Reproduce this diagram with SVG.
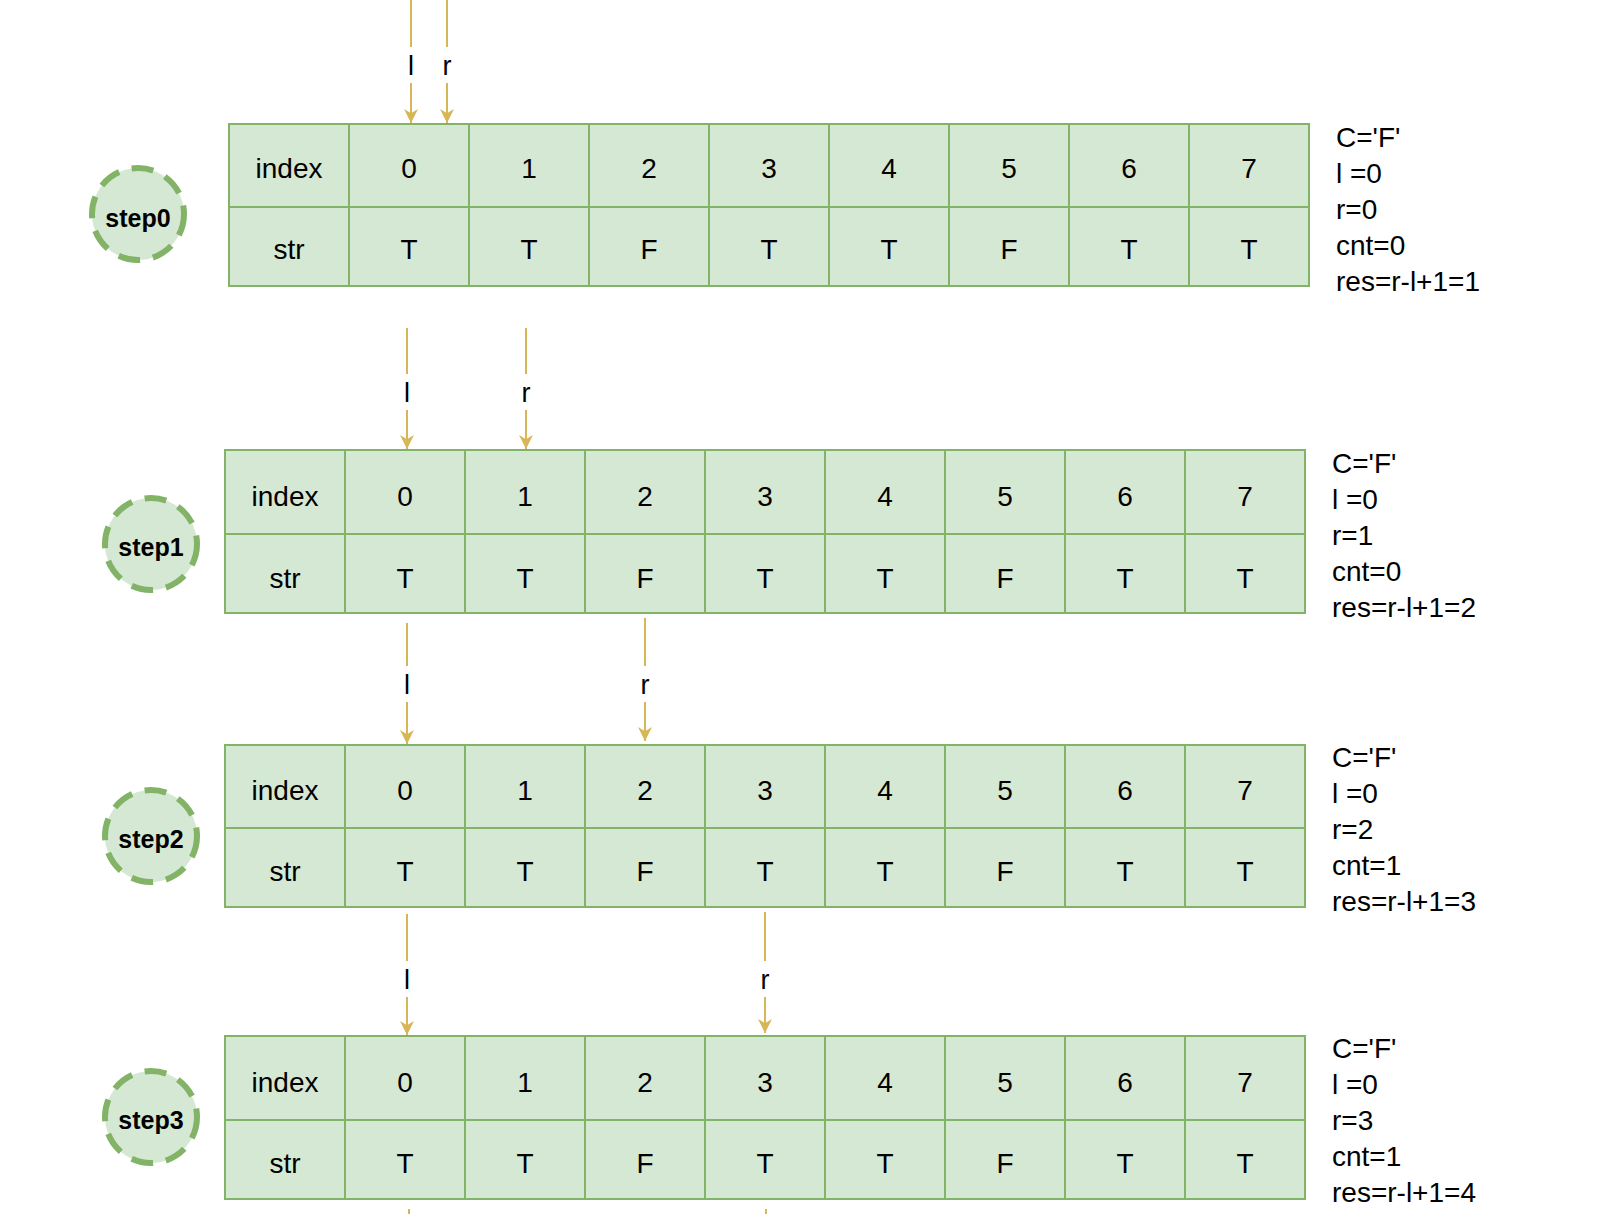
<svg xmlns="http://www.w3.org/2000/svg" width="1602" height="1214" viewBox="0 0 1602 1214">
  <style>
    .cell { fill: #d5e8d4; stroke: #82b366; stroke-width: 2; }
    .grid { stroke: #82b366; stroke-width: 2; }
    .txt { font-family: "Liberation Sans", "DejaVu Sans", sans-serif; font-size: 28px; fill: #000; text-anchor: middle; dominant-baseline: central; }
    .info { font-family: "Liberation Sans", "DejaVu Sans", sans-serif; font-size: 28px; fill: #000; }
    .step { fill: #d5e8d4; stroke: #82b366; stroke-width: 6; stroke-dasharray: 22 13; }
    .steplbl { font-family: "Liberation Sans", "DejaVu Sans", sans-serif; font-size: 25px; font-weight: bold; fill: #000; text-anchor: middle; dominant-baseline: central; }
    .ptr { stroke: #d6b656; stroke-width: 2; fill: none; marker-end: url(#arrow); }
    .stub { stroke: #d6b656; stroke-width: 2; }
    .lblbg { fill: #ffffff; }
    .lbl { font-family: "Liberation Sans", "DejaVu Sans", sans-serif; font-size: 27px; fill: #000; text-anchor: middle; dominant-baseline: central; }
  </style>
  <defs>
    <marker id="arrow" viewBox="0 0 10 10" refX="10" refY="5" markerWidth="14" markerHeight="14" markerUnits="userSpaceOnUse" orient="auto">
      <path d="M0,0 L10,5 L0,10 L3,5 z" fill="#d6b656"/>
    </marker>
  </defs>
  <rect width="1602" height="1214" fill="#ffffff"/>

  <!-- step 0 -->
  <g id="step0">
    <circle class="step" cx="138" cy="214" r="46"/>
    <text class="steplbl" x="138" y="218">step0</text>
  </g>
  <g id="table0">
    <rect class="cell" x="229" y="124" width="1080" height="162"/>
    <path class="grid" d="M229,207H1309M349,124V286M469,124V286M589,124V286M709,124V286M829,124V286M949,124V286M1069,124V286M1189,124V286"/>
    <text class="txt" x="289" y="168">index</text><text class="txt" x="409" y="168">0</text><text class="txt" x="529" y="168">1</text><text class="txt" x="649" y="168">2</text><text class="txt" x="769" y="168">3</text><text class="txt" x="889" y="168">4</text><text class="txt" x="1009" y="168">5</text><text class="txt" x="1129" y="168">6</text><text class="txt" x="1249" y="168">7</text>
    <text class="txt" x="289" y="249">str</text><text class="txt" x="409" y="249">T</text><text class="txt" x="529" y="249">T</text><text class="txt" x="649" y="249">F</text><text class="txt" x="769" y="249">T</text><text class="txt" x="889" y="249">T</text><text class="txt" x="1009" y="249">F</text><text class="txt" x="1129" y="249">T</text><text class="txt" x="1249" y="249">T</text>
  </g>
  <g id="info0">
    <text class="info" x="1336" y="147"><tspan x="1336">C='F'</tspan><tspan x="1336" dy="36">l =0</tspan><tspan x="1336" dy="36">r=0</tspan><tspan x="1336" dy="36">cnt=0</tspan><tspan x="1336" dy="36">res=r-l+1=1</tspan></text>
  </g>

  <!-- step 1 -->
  <g id="step1">
    <circle class="step" cx="151" cy="544" r="46"/>
    <text class="steplbl" x="151" y="547">step1</text>
  </g>
  <g id="table1">
    <rect class="cell" x="225" y="450" width="1080" height="163"/>
    <path class="grid" d="M225,534H1305M345,450V613M465,450V613M585,450V613M705,450V613M825,450V613M945,450V613M1065,450V613M1185,450V613"/>
    <text class="txt" x="285" y="496">index</text><text class="txt" x="405" y="496">0</text><text class="txt" x="525" y="496">1</text><text class="txt" x="645" y="496">2</text><text class="txt" x="765" y="496">3</text><text class="txt" x="885" y="496">4</text><text class="txt" x="1005" y="496">5</text><text class="txt" x="1125" y="496">6</text><text class="txt" x="1245" y="496">7</text>
    <text class="txt" x="285" y="578">str</text><text class="txt" x="405" y="578">T</text><text class="txt" x="525" y="578">T</text><text class="txt" x="645" y="578">F</text><text class="txt" x="765" y="578">T</text><text class="txt" x="885" y="578">T</text><text class="txt" x="1005" y="578">F</text><text class="txt" x="1125" y="578">T</text><text class="txt" x="1245" y="578">T</text>
  </g>
  <g id="info1">
    <text class="info" x="1332" y="473"><tspan x="1332">C='F'</tspan><tspan x="1332" dy="36">l =0</tspan><tspan x="1332" dy="36">r=1</tspan><tspan x="1332" dy="36">cnt=0</tspan><tspan x="1332" dy="36">res=r-l+1=2</tspan></text>
  </g>

  <!-- step 2 -->
  <g id="step2">
    <circle class="step" cx="151" cy="836" r="46"/>
    <text class="steplbl" x="151" y="839">step2</text>
  </g>
  <g id="table2">
    <rect class="cell" x="225" y="745" width="1080" height="162"/>
    <path class="grid" d="M225,828H1305M345,745V907M465,745V907M585,745V907M705,745V907M825,745V907M945,745V907M1065,745V907M1185,745V907"/>
    <text class="txt" x="285" y="790">index</text><text class="txt" x="405" y="790">0</text><text class="txt" x="525" y="790">1</text><text class="txt" x="645" y="790">2</text><text class="txt" x="765" y="790">3</text><text class="txt" x="885" y="790">4</text><text class="txt" x="1005" y="790">5</text><text class="txt" x="1125" y="790">6</text><text class="txt" x="1245" y="790">7</text>
    <text class="txt" x="285" y="871">str</text><text class="txt" x="405" y="871">T</text><text class="txt" x="525" y="871">T</text><text class="txt" x="645" y="871">F</text><text class="txt" x="765" y="871">T</text><text class="txt" x="885" y="871">T</text><text class="txt" x="1005" y="871">F</text><text class="txt" x="1125" y="871">T</text><text class="txt" x="1245" y="871">T</text>
  </g>
  <g id="info2">
    <text class="info" x="1332" y="767"><tspan x="1332">C='F'</tspan><tspan x="1332" dy="36">l =0</tspan><tspan x="1332" dy="36">r=2</tspan><tspan x="1332" dy="36">cnt=1</tspan><tspan x="1332" dy="36">res=r-l+1=3</tspan></text>
  </g>

  <!-- step 3 -->
  <g id="step3">
    <circle class="step" cx="151" cy="1117" r="46"/>
    <text class="steplbl" x="151" y="1120">step3</text>
  </g>
  <g id="table3">
    <rect class="cell" x="225" y="1036" width="1080" height="163"/>
    <path class="grid" d="M225,1120H1305M345,1036V1199M465,1036V1199M585,1036V1199M705,1036V1199M825,1036V1199M945,1036V1199M1065,1036V1199M1185,1036V1199"/>
    <text class="txt" x="285" y="1082">index</text><text class="txt" x="405" y="1082">0</text><text class="txt" x="525" y="1082">1</text><text class="txt" x="645" y="1082">2</text><text class="txt" x="765" y="1082">3</text><text class="txt" x="885" y="1082">4</text><text class="txt" x="1005" y="1082">5</text><text class="txt" x="1125" y="1082">6</text><text class="txt" x="1245" y="1082">7</text>
    <text class="txt" x="285" y="1163">str</text><text class="txt" x="405" y="1163">T</text><text class="txt" x="525" y="1163">T</text><text class="txt" x="645" y="1163">F</text><text class="txt" x="765" y="1163">T</text><text class="txt" x="885" y="1163">T</text><text class="txt" x="1005" y="1163">F</text><text class="txt" x="1125" y="1163">T</text><text class="txt" x="1245" y="1163">T</text>
  </g>
  <g id="info3">
    <text class="info" x="1332" y="1058"><tspan x="1332">C='F'</tspan><tspan x="1332" dy="36">l =0</tspan><tspan x="1332" dy="36">r=3</tspan><tspan x="1332" dy="36">cnt=1</tspan><tspan x="1332" dy="36">res=r-l+1=4</tspan></text>
  </g>

  <!-- l / r pointers -->
  <g id="connectors">
    <line class="ptr" x1="411" y1="0" x2="411" y2="123"/>
    <line class="ptr" x1="447" y1="0" x2="447" y2="123"/>
    <rect class="lblbg" x="401" y="47" width="20" height="36"/><text class="lbl" x="411" y="66">l</text>
    <rect class="lblbg" x="437" y="47" width="20" height="36"/><text class="lbl" x="447" y="66">r</text>

    <line class="ptr" x1="407" y1="328" x2="407" y2="449"/>
    <line class="ptr" x1="526" y1="328" x2="526" y2="449"/>
    <rect class="lblbg" x="397" y="374" width="20" height="36"/><text class="lbl" x="407" y="393">l</text>
    <rect class="lblbg" x="516" y="374" width="20" height="36"/><text class="lbl" x="526" y="393">r</text>

    <line class="ptr" x1="407" y1="623" x2="407" y2="744"/>
    <line class="ptr" x1="645" y1="618" x2="645" y2="741"/>
    <rect class="lblbg" x="397" y="666" width="20" height="36"/><text class="lbl" x="407" y="685">l</text>
    <rect class="lblbg" x="635" y="666" width="20" height="36"/><text class="lbl" x="645" y="685">r</text>

    <line class="ptr" x1="407" y1="914" x2="407" y2="1035"/>
    <line class="ptr" x1="765" y1="912" x2="765" y2="1033"/>
    <rect class="lblbg" x="397" y="961" width="20" height="36"/><text class="lbl" x="407" y="980">l</text>
    <rect class="lblbg" x="755" y="961" width="20" height="36"/><text class="lbl" x="765" y="980">r</text>

    <line class="stub" x1="409" y1="1209" x2="409" y2="1214"/>
    <line class="stub" x1="766" y1="1209" x2="766" y2="1214"/>
  </g>
</svg>
